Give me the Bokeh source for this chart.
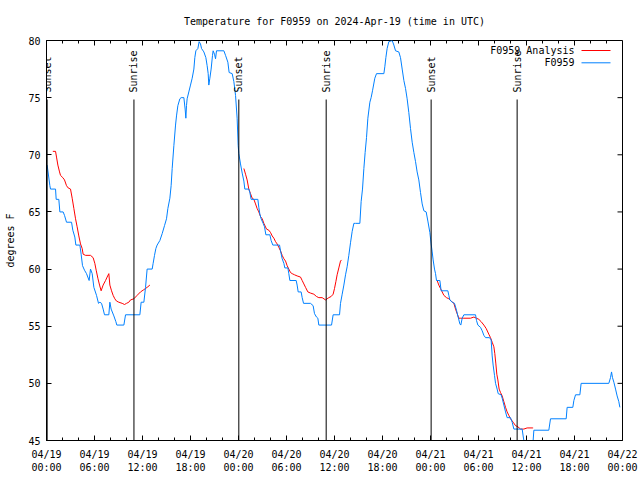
import math
from bokeh.plotting import figure
from bokeh.models import (Range1d, FixedTicker, ColumnDataSource,
                          LabelSet, Label, Arrow)
from bokeh.core.properties import value
from bokeh.embed import file_html
from bokeh.resources import INLINE

FONT = "DejaVu Sans Mono"

# ---- data (time = hours since 2024-04-19 00:00 UTC) ----
obs_hours = [0.08, 0.42, 0.5, 1.13, 1.21, 1.54, 1.67, 2.08, 2.25, 2.5, 3.13, 3.29, 3.54, 3.67,
             4.17, 4.33, 4.5, 4.75, 5.0, 5.33, 5.5, 5.71, 5.92, 6.25, 6.5, 6.67, 6.88, 7.08,
             7.25, 7.79, 7.92, 8.08, 8.42, 8.67, 8.79, 9.67, 9.88, 11.67, 11.83, 12.17, 12.38,
             12.58, 13.21, 13.33, 13.5, 13.67, 13.83, 14.17, 14.46, 14.75, 15.0, 15.17, 15.42,
             15.58, 15.71, 15.92, 16.13, 16.25, 16.42, 16.67, 16.83, 17.17, 17.33, 17.42, 17.5,
             17.58, 17.79, 18.0, 18.21, 18.42, 18.54, 18.67, 18.92, 19.08, 19.25, 19.38, 19.67,
             19.92, 20.08, 20.21, 20.29, 20.42, 20.58, 20.75, 20.83, 21.0, 21.13, 21.25, 22.17,
             22.38, 22.67, 22.83, 23.21, 23.42, 23.63, 23.83, 23.96, 24.04, 24.25, 24.46, 24.67,
             24.79, 25.29, 25.42, 25.58, 26.42, 26.54, 26.67, 26.83, 27.08, 27.25, 27.42, 27.92,
             28.08, 28.29, 29.13, 29.25, 29.46, 29.67, 29.79, 30.17, 30.29, 30.42, 31.21, 31.33,
             31.46, 31.83, 31.96, 32.13, 33.0, 33.33, 33.5, 33.75, 33.92, 34.04, 35.63, 35.83,
             36.63, 36.75, 36.96, 37.17, 37.38, 37.58, 37.79, 38.0, 38.21, 38.42, 38.63, 39.17,
             39.33, 39.5, 39.67, 39.83, 40.0, 40.17, 40.42, 40.58, 40.75, 41.04, 41.25, 42.17,
             42.29, 42.42, 42.58, 42.79, 43.21, 43.42, 43.63, 44.04, 44.25, 44.46, 44.67, 44.88,
             45.08, 45.29, 45.5, 45.71, 45.92, 46.13, 46.33, 46.54, 46.75, 46.96, 47.17, 47.46,
             47.67, 47.92, 48.08, 48.21, 48.33, 48.5, 48.63, 48.75, 49.17, 49.33, 50.17, 50.29,
             50.42, 50.71, 51.0, 51.25, 51.42, 51.67, 51.79, 51.96, 52.17, 53.63, 53.75, 53.92,
             54.25, 54.46, 54.67, 54.88, 55.38, 55.58, 55.71, 55.83, 56.0, 56.13, 56.33, 56.46,
             56.83, 56.96, 57.17, 57.38, 57.58, 58.0, 58.21, 58.42, 59.46, 59.58, 59.67, 59.75,
             60.75, 60.83, 60.92, 62.79, 63.0, 64.96, 65.08, 65.79, 65.92, 66.13, 66.67, 66.83,
             70.29, 70.5, 70.63, 70.75, 70.92, 71.13, 71.33, 71.54, 71.67]
obs_temp = [69.1, 67.3, 67.0, 67.0, 66.1, 66.1, 65.0, 65.0, 64.7, 64.1, 64.1, 63.4, 62.8, 62.1,
            62.1, 61.3, 60.3, 59.9, 59.6, 59.0, 60.0, 59.6, 58.4, 57.7, 57.0, 57.1, 57.0, 56.5,
            56.0, 56.0, 57.1, 56.5, 55.9, 55.4, 55.1, 55.1, 56.0, 56.0, 57.1, 57.1, 58.4,
            60.0, 60.0, 60.5, 61.2, 61.8, 62.1, 62.5, 63.1, 63.8, 64.4, 65.3, 66.2,
            67.3, 68.8, 70.8, 72.6, 73.4, 74.3, 74.9, 75.0, 75.0, 74.0, 73.2, 74.3,
            74.9, 75.5, 76.1, 76.7, 77.5, 78.5, 79.1, 79.3, 79.9, 79.7, 79.3, 79.0,
            78.5, 77.8, 77.1, 76.1, 76.7, 77.5, 78.7, 79.1, 78.8, 78.4, 79.1, 79.1,
            78.7, 78.1, 77.2, 77.1, 76.4, 75.2, 73.2, 70.8, 70.1, 69.2, 68.4, 67.7,
            67.0, 67.0, 66.7, 66.1, 66.1, 65.4, 64.8, 64.4, 64.0, 63.7, 63.0, 63.0,
            62.5, 62.1, 62.1, 61.6, 60.9, 60.5, 60.1, 60.1, 59.6, 59.0, 59.0, 58.6,
            58.0, 58.0, 57.5, 57.0, 57.0, 56.8, 56.1, 55.8, 55.7, 55.1, 55.1, 56.0,
            56.0, 57.0, 57.8, 58.6, 59.5, 60.2, 61.2, 62.3, 63.3, 64.0, 64.0, 64.0,
            65.9, 67.0, 68.8, 70.2, 71.5, 73.2, 74.6, 75.0, 75.6, 76.7, 77.1, 77.1,
            77.7, 78.5, 79.3, 79.9, 80.0, 79.6, 79.1, 79.0, 78.5, 77.5, 76.5, 75.8,
            74.9, 73.7, 72.3, 71.1, 70.2, 69.4, 68.5, 67.8, 66.7, 65.7, 65.1, 65.0,
            64.2, 63.2, 62.2, 61.5, 60.8, 60.0, 59.6, 59.0, 59.0, 58.1, 58.1, 57.7,
            57.3, 57.1, 57.0, 56.4, 55.9, 55.2, 55.1, 55.7, 56.0, 56.0, 55.5, 55.1,
            54.9, 54.6, 54.2, 54.0, 54.0, 53.8, 52.4, 51.6, 50.7, 50.0, 49.5, 49.1,
            49.0, 48.7, 48.1, 47.5, 47.0, 47.0, 46.6, 46.0, 46.0, 45.4, 45.0, 44.5,
            44.5, 45.0, 45.9, 45.9, 46.9, 46.9, 47.9, 47.9, 48.5, 49.0, 49.0, 50.0,
            50.0, 50.5, 51.0, 50.5, 50.1, 49.5, 48.9, 48.4, 47.9]

nan = float("nan")
ana_hours = [0.79, 1.13, 1.25, 1.42, 1.63, 1.75, 2.04, 2.25, 2.5, 2.71, 3.0, 3.21, 3.42, 3.63,
             3.83, 4.04, 4.25, 4.46, 4.58, 4.88, 5.5, 5.83, 6.04, 6.21, 6.42, 6.63, 6.83, 7.08,
             7.38, 7.58, 7.79, 7.92, 8.13, 8.33, 8.54, 8.75, 9.04, 9.46, 9.75, 10.0, 10.29, 10.5,
             10.92, 11.33, 11.75, 12.17, 12.58, 12.92,
             nan,
             24.67, 24.88, 25.08, 25.29, 25.5, 25.71, 25.92, 26.13, 26.33, 26.54, 26.75, 26.96,
             27.17, 27.5, 27.79, 28.0, 28.21, 28.42, 28.63, 28.83, 29.04, 29.25, 29.46, 29.67,
             29.88, 30.08, 30.29, 30.5, 30.71, 31.0, 31.33, 31.75, 31.96, 32.17, 32.38, 32.67,
             33.0, 33.42, 33.75, 34.04, 34.46, 34.88, 35.08, 35.29, 35.58, 35.83, 36.0, 36.17,
             36.33, 36.54, 36.75, 36.88,
             nan,
             48.83, 49.04, 49.25, 49.46, 49.67, 50.0, 50.29, 50.58, 50.92, 51.13, 51.33, 51.54,
             51.75, 52.17, 53.0, 53.42, 53.75, 54.04, 54.33, 54.67, 54.96, 55.29, 55.5, 55.71,
             55.92, 56.04, 56.17, 56.29, 56.42, 56.58, 56.75, 56.96, 57.17, 57.38, 57.58, 57.79,
             58.0, 58.33, 58.63, 58.92, 59.25, 59.67, 60.08, 60.71, 60.83]
ana_temp = [70.3, 70.3, 69.8, 69.1, 68.5, 68.2, 68.0, 67.8, 67.3, 67.1, 67.0, 66.2, 65.3, 64.4,
            63.7, 62.9, 62.2, 61.8, 61.3, 61.2, 61.2, 61.0, 60.5, 59.9, 59.2, 58.6, 58.1, 58.6,
            59.0, 59.3, 59.6, 58.6, 58.1, 57.7, 57.4, 57.2, 57.1, 57.0, 56.9, 57.0, 57.1, 57.3,
            57.4, 57.7, 58.0, 58.2, 58.4, 58.6,
            nan,
            68.8, 68.3, 67.8, 67.0, 66.6, 66.2, 66.1, 65.7, 65.3, 65.0, 64.6, 64.4,
            64.0, 63.5, 63.4, 63.2, 62.9, 62.7, 62.4, 62.2, 61.9, 61.6, 61.2, 60.9,
            60.7, 60.3, 60.0, 59.7, 59.6, 59.5, 59.4, 59.3, 59.0, 58.7, 58.4, 58.0,
            57.9, 57.8, 57.6, 57.5, 57.5, 57.3, 57.4, 57.5, 57.6, 57.8, 58.3, 58.9,
            59.5, 60.1, 60.7, 60.8,
            nan,
            59.0, 58.6, 58.3, 58.0, 57.7, 57.5, 57.4, 57.2, 57.0, 56.5, 56.1, 55.7,
            55.7, 55.7, 55.7, 55.8, 55.7, 55.6, 55.4, 55.1, 54.8, 54.3, 54.0, 53.6,
            53.2, 52.6, 51.7, 50.8, 50.3, 49.5, 49.2, 48.9, 48.4, 47.9, 47.5, 47.2,
            46.9, 46.6, 46.3, 46.2, 46.0, 46.0, 46.1, 46.1, 46.1]

event_hours = [0.08, 10.93, 24.04, 34.96, 48.08, 58.83]
event_names = ["Sunset", "Sunrise", "Sunset", "Sunrise", "Sunset", "Sunrise"]

x_ticks = [0, 6, 12, 18, 24, 30, 36, 42, 48, 54, 60, 66, 72]
x_minor = [2, 4, 8, 10, 14, 16, 20, 22, 26, 28, 32, 34, 38, 40, 44, 46, 50, 52, 56, 58,
           62, 64, 68, 70]
x_tick_labels = ["04/19\n00:00", "04/19\n06:00", "04/19\n12:00", "04/19\n18:00",
                 "04/20\n00:00", "04/20\n06:00", "04/20\n12:00", "04/20\n18:00",
                 "04/21\n00:00", "04/21\n06:00", "04/21\n12:00", "04/21\n18:00",
                 "04/22\n00:00"]
y_ticks = [45, 50, 55, 60, 65, 70, 75, 80]

series_names = ["F0959 Analysis", "F0959"]
series_colors = ["#ff0000", "#0080ff"]

X0, X1, Y0, Y1 = 0, 72, 45, 80
FRAME_W, FRAME_H = 576, 400
XPX = (X1 - X0) / FRAME_W   # hours per pixel
YPX = (Y1 - Y0) / FRAME_H   # degrees per pixel

# ---- figure ----
p = figure(width=640, height=480, output_backend="svg", toolbar_location=None,
           x_range=Range1d(X0, X1), y_range=Range1d(Y0, Y1),
           min_border_left=46, min_border_right=18, min_border_top=40, min_border_bottom=40)
p.background_fill_color = "white"
p.border_fill_color = "white"
p.outline_line_color = "black"
p.outline_line_width = 1
p.xgrid.visible = False
p.ygrid.visible = False

p.title.text = "Temperature for F0959 on 2024-Apr-19 (time in UTC)"
p.title.align = "center"
p.title.vertical_align = "middle"
p.title.text_font = FONT
p.title.text_font_size = "10px"
p.title.text_font_style = "normal"
p.title.text_color = "black"
p.title.standoff = 26

def style_axis(ax):
    ax.axis_line_color = "black"
    ax.major_tick_line_color = "black"
    ax.minor_tick_line_color = "black"
    ax.major_tick_in = 5
    ax.major_tick_out = 0
    ax.minor_tick_in = 3
    ax.minor_tick_out = 0
    ax.major_label_text_font = FONT
    ax.major_label_text_color = "black"
    ax.major_label_text_font_size = "10px"

xb = p.xaxis[0]
xb.ticker = FixedTicker(ticks=x_ticks, minor_ticks=x_minor)
xb.major_label_overrides = {t: lab for t, lab in zip(x_ticks, x_tick_labels)}
style_axis(xb)
xb.major_label_standoff = 8
xb.major_label_text_line_height = 1.27

yl = p.yaxis[0]
yl.ticker = FixedTicker(ticks=y_ticks, minor_ticks=[])
style_axis(yl)
yl.major_label_standoff = 6
yl.axis_label = "degrees F"
yl.axis_label_text_font = FONT
yl.axis_label_text_font_size = "10px"
yl.axis_label_text_font_style = "normal"
yl.axis_label_text_color = "black"
yl.axis_label_standoff = 9

# mirrored ticks on top and right edges (gnuplot style), derived from the tick lists
top_src = ColumnDataSource(dict(
    x=x_ticks + x_minor,
    y0=[Y1] * (len(x_ticks) + len(x_minor)),
    y1=[Y1 - 5 * YPX] * len(x_ticks) + [Y1 - 3 * YPX] * len(x_minor)))
p.segment(x0="x", y0="y0", x1="x", y1="y1", source=top_src, line_color="black", line_width=1)
right_src = ColumnDataSource(dict(
    y=y_ticks, x0=[X1] * len(y_ticks), x1=[X1 - 5 * XPX] * len(y_ticks)))
p.segment(x0="x0", y0="y", x1="x1", y1="y", source=right_src, line_color="black", line_width=1)

# ---- data lines ----
p.line(ana_hours, ana_temp, line_color=series_colors[0], line_width=1)
p.line(obs_hours, obs_temp, line_color=series_colors[1], line_width=1)

# ---- sunrise / sunset markers ----
line_top = Y1 - 59 * YPX
label_bottom = Y1 - 52 * YPX
ev = ColumnDataSource(dict(h=event_hours, name=event_names,
                           y0=[Y0] * len(event_hours), y1=[line_top] * len(event_hours),
                           ly=[label_bottom] * len(event_hours)))
p.segment(x0="h", y0="y0", x1="h", y1="y1", source=ev, line_color="black", line_width=1)
p.add_layout(LabelSet(x="h", y="ly", text="name", source=ev, angle=math.pi / 2,
                      text_align="left", text_baseline="middle",
                      text_font=value(FONT), text_font_size="10px", text_color="black"))

# ---- legend (gnuplot style: label left, sample right) ----
for i, (name, color) in enumerate(zip(series_names, series_colors)):
    yy = Y1 - (10 + 12.3 * i) * YPX
    p.add_layout(Label(x=X1 - 48 * XPX, y=yy, text=name, text_align="right",
                       text_baseline="middle", text_font=FONT, text_font_size="10px",
                       text_color="black"))
    p.add_layout(Arrow(end=None, x_start=X1 - 41 * XPX, y_start=yy, x_end=X1 - 12 * XPX,
                       y_end=yy, line_color=color, line_width=1))

open("out.html", "w").write(file_html(p, INLINE))
